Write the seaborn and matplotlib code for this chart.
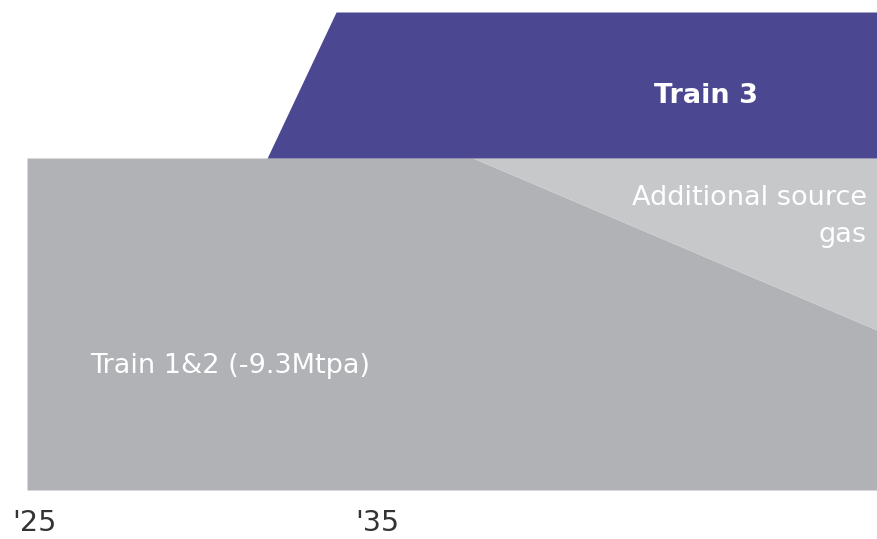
import numpy as np
import pandas as pd
import matplotlib
matplotlib.use("Agg")
import matplotlib.pyplot as plt
import seaborn as sns

# Data (years, Mtpa)
years = [2024.78, 2031.78, 2033.79, 2037.78, 2049.56]
train12 = [9.3, 9.3, 9.3, 9.3, 4.48]
additional = [0.0, 0.0, 0.0, 0.0, 4.82]
train3 = [0.0, 0.0, 4.09, 4.09, 4.09]
tick_years = [2025, 2035]
tick_labels = ["'25", "'35"]

df = pd.DataFrame({"year": years, "Train 1&2": train12,
                   "Additional source gas": additional, "Train 3": train3})

sns.set_theme(style="white")
plt.rcParams['font.family'] = ['DejaVu Sans']

fig = plt.figure(figsize=(8.77, 5.39), dpi=100)
ax = fig.add_axes([27/877, (539-490)/539, 850/877, (490-12)/539])

c_t12 = "#B1B2B6"
c_add = "#C7C8CA"
c_t3 = "#4B4891"

y0 = np.zeros(len(df))
y1 = df["Train 1&2"].to_numpy()
y2 = y1 + df["Additional source gas"].to_numpy()
y3 = y2 + df["Train 3"].to_numpy()

ax.fill_between(df["year"], y0, y1, color=c_t12, linewidth=0)
ax.fill_between(df["year"], y1, y2, color=c_add, linewidth=0)
ax.fill_between(df["year"], y2, y3, color=c_t3, linewidth=0)
sns.lineplot(x=df["year"], y=y3, ax=ax, color=c_t3, linewidth=0)

ax.set_xlim(years[0], years[-1])
ax.set_ylim(0, y3.max())
ax.set_xticks([])
ax.set_yticks([])
ax.set_xlabel("")
ax.set_ylabel("")
for s in ax.spines.values():
    s.set_visible(False)

# Tick labels below the plot
for ty, tl in zip(tick_years, tick_labels):
    ax.text(ty, -1.33, tl, ha="center", va="bottom", fontsize=20.5,
            color="#333333", clip_on=False)

ax.text(2044.58, 10.84, "Train 3", ha="center", va="baseline", fontsize=19.5,
        fontweight="bold", color="white")
ax.text(2049.27, 7.98, "Additional source", ha="right", va="baseline",
        fontsize=19.5, color="white")
ax.text(2049.27, 6.95, "gas", ha="right", va="baseline",
        fontsize=19.5, color="white")
ax.text(2026.62, 3.28, "Train 1&2 (-9.3Mtpa)", ha="left", va="baseline",
        fontsize=19.5, color="white")

fig.savefig("out.png", dpi=100)
